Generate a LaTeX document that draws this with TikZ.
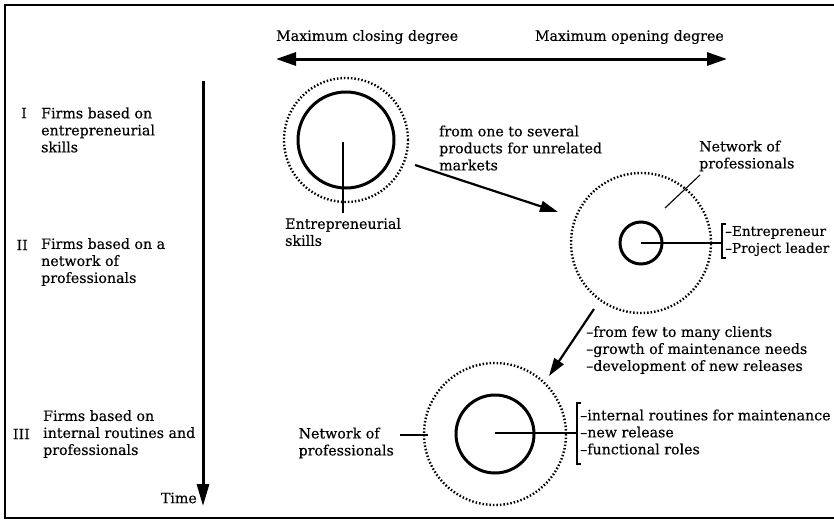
\documentclass[tikz,border=0pt]{standalone}
\usepackage{fontspec}
\setmainfont{DejaVu Serif}
\newfontfamily\figfont{DejaVu Serif}[Ligatures=TeX, FakeBold=0.35]
\usetikzlibrary{arrows.meta}
\begin{document}
\begin{tikzpicture}[x=1pt,y=-1pt,
  every node/.style={font=\figfont\fontsize{14.2}{17}\selectfont, inner sep=0pt},
  txt/.style={align=left, anchor=west},
  solidc/.style={draw, circle, line width=3pt},
  dotc/.style={draw, circle, line width=2.4pt, dash pattern=on 1.5pt off 2pt},
  bigarrow/.style={line width=3pt},
  arr/.style={line width=2.2pt, -{Triangle[length=18pt,width=11pt]}},
  thinline/.style={line width=1.1pt}]
\useasboundingbox (0,0) rectangle (834,522);
\clip (0,0) rectangle (834,522);
% frame
\draw[line width=1.3pt] (845,5) -- (5,5) -- (5,518) -- (845,518);
% top axis
\node[anchor=west] (close) at (276,37) {Maximum closing degree};
\node[anchor=east] (open) at (724,37) {Maximum opening degree};
\coordinate (hl) at (276,59);
\coordinate (hr) at (727,59);
\draw[bigarrow, {Triangle[length=20pt,width=13pt]}-{Triangle[length=20pt,width=13pt]}] (hl) -- (hr);
% time axis
\coordinate (vt) at (203,81);
\coordinate (vb) at (203,506);
\draw[bigarrow, -{Triangle[length=22pt,width=12pt]}] (vt) -- (vb);
\node[anchor=east] (time) at (197,498) {Time};
% left labels
\node[anchor=east] (n1) at (27,113) {I};
\node[txt] (l1) at (41,130) {Firms based on\\entrepreneurial\\skills};
\node[anchor=east] (n2) at (28,245) {II};
\node[txt] (l2) at (41,262) {Firms based on a\\network of\\professionals};
\node[anchor=east] (n3) at (30,434) {III};
\node[txt] (l3) at (43,434) {Firms based on\\internal routines and\\professionals};
% stage I
\node[solidc, minimum size=96pt] (c1in) at (346,140) {};
\node[dotc, minimum size=124pt] (c1out) at (346,140) {};
\coordinate (c1a) at (343,142);
\coordinate (c1b) at (343,213);
\draw[thinline] (c1a) -- (c1b);
\node[txt] (es) at (285,232) {Entrepreneurial\\skills};
% arrow I -> II
\node[txt] (t1) at (439,148) {from one to several\\products for unrelated\\markets};
\coordinate (a1s) at (415,165);
\coordinate (a1e) at (558,212);
\draw[arr] (a1s) -- (a1e);
% stage II
\node[solidc, minimum size=42pt] (c2in) at (641,243) {};
\node[dotc, minimum size=140pt] (c2out) at (641,243) {};
\node[txt] (np2) at (699,156) {Network of\\professionals};
\coordinate (l2a) at (665,208);
\coordinate (l2b) at (700,175);
\draw[thinline] (l2a) -- (l2b);
\coordinate (c2c) at (641,243);
\coordinate (b2m) at (722,243);
\draw[thinline] (c2c) -- (b2m);
\coordinate (b2t) at (722,224);
\coordinate (b2b) at (722,258);
\draw[thinline] ([xshift=4pt]b2t) -- (b2t) -- (b2b) -- ([xshift=4pt]b2b);
\node[txt, font=\figfont\fontsize{13.6}{17}\selectfont] (e2) at (725,241) {--Entrepreneur\\--Project leader};
% arrow II -> III
\coordinate (a2s) at (594,309);
\coordinate (a2e) at (549,376);
\draw[arr] (a2s) -- (a2e);
\node[txt] (t2) at (586,350) {--from few to many clients\\--growth of maintenance needs\\--development of new releases};
% stage III
\node[solidc, minimum size=78pt] (c3in) at (495,434) {};
\node[dotc, minimum size=142pt] (c3out) at (495,434) {};
\node[anchor=east, align=left] (np3) at (394,443) {Network of\\professionals};
\coordinate (l3a) at (400,435);
\coordinate (l3b) at (428,435);
\draw[thinline] (l3a) -- (l3b);
\coordinate (c3c) at (495,433);
\coordinate (b3m) at (577,433);
\draw[thinline] (c3c) -- (b3m);
\coordinate (b3t) at (577,403);
\coordinate (b3b) at (577,464);
\draw[thinline] ([xshift=4pt]b3t) -- (b3t) -- (b3b) -- ([xshift=4pt]b3b);
\node[txt] (t3) at (580,432) {--internal routines for maintenance\\--new release\\--functional roles};
\end{tikzpicture}
\end{document}
